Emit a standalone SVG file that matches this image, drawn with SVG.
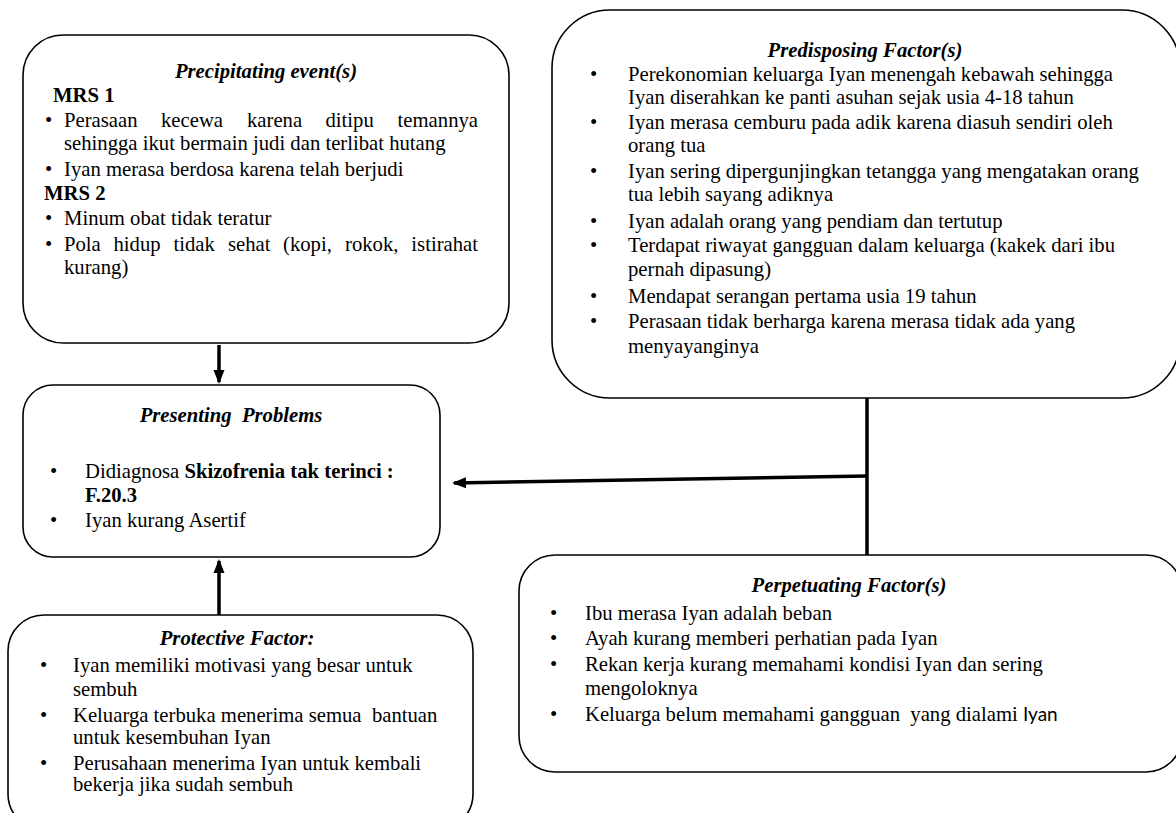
<svg xmlns="http://www.w3.org/2000/svg" width="1176" height="813" viewBox="0 0 1176 813">
<style>
.box{fill:#fff;stroke:#000;stroke-width:1.6}
.t{font-family:"Liberation Serif","Times New Roman",serif;font-size:20.7px;fill:#000}
.h{font-weight:bold;font-style:italic;text-anchor:middle}
.b{font-weight:bold}
.e{text-anchor:end}
.pre{white-space:pre}
.sans{font-family:Lato,"Liberation Sans",sans-serif;font-size:19px}
.con{stroke:#000;stroke-width:3.5;fill:none}
</style>
<defs>
<marker id="ah" markerUnits="userSpaceOnUse" markerWidth="14" markerHeight="14" viewBox="0 0 14 14" refX="12" refY="7" orient="auto"><path d="M0,1.5 L14,7 L0,12.5 z" fill="#000"/></marker>
</defs>
<rect width="1176" height="813" fill="#fff"/>

<g id="connectors">
<line class="con" x1="219" y1="345" x2="219" y2="382" marker-end="url(#ah)"/>
<line class="con" x1="219" y1="615" x2="219" y2="561" marker-end="url(#ah)"/>
<line class="con" x1="867" y1="398" x2="867" y2="555"/>
<line class="con" x1="868" y1="476" x2="454" y2="483" marker-end="url(#ah)"/>
</g>

<g id="precipitating">
<rect class="box" x="23" y="35" width="486" height="308" rx="40"/>
<text class="t h" x="266" y="78">Precipitating event(s)</text>
<text class="t b" x="53" y="102">MRS 1</text>
<text class="t" x="45" y="127">•</text>
<text class="t" x="64" y="127">Perasaan</text>
<text class="t" x="161" y="127">kecewa</text>
<text class="t" x="247" y="127">karena</text>
<text class="t" x="325.5" y="127">ditipu</text>
<text class="t e" x="478" y="127">temannya</text>
<text class="t" x="64" y="150">sehingga ikut bermain judi dan terlibat hutang</text>
<text class="t" x="45" y="176">•</text>
<text class="t" x="64" y="176">Iyan merasa berdosa karena telah berjudi</text>
<text class="t b" x="44" y="200">MRS 2</text>
<text class="t" x="45" y="225">•</text>
<text class="t" x="64" y="225">Minum obat tidak teratur</text>
<text class="t" x="45" y="251">•</text>
<text class="t" x="64" y="251">Pola</text>
<text class="t" x="113.5" y="251">hidup</text>
<text class="t" x="173.5" y="251">tidak</text>
<text class="t" x="228" y="251">sehat</text>
<text class="t" x="283" y="251">(kopi,</text>
<text class="t" x="345" y="251">rokok,</text>
<text class="t e" x="478" y="251">istirahat</text>
<text class="t" x="64" y="274">kurang)</text>
</g>

<g id="predisposing">
<rect class="box" x="552" y="10" width="628" height="388" rx="58"/>
<text class="t h" x="865" y="57">Predisposing Factor(s)</text>
<text class="t" x="590" y="81">•</text>
<text class="t" x="628" y="81">Perekonomian keluarga Iyan menengah kebawah sehingga</text>
<text class="t" x="628" y="104">Iyan diserahkan ke panti asuhan sejak usia 4-18 tahun</text>
<text class="t" x="590" y="129">•</text>
<text class="t" x="628" y="129">Iyan merasa cemburu pada adik karena diasuh sendiri oleh</text>
<text class="t" x="628" y="152">orang tua</text>
<text class="t" x="590" y="178">•</text>
<text class="t" x="628" y="178">Iyan sering dipergunjingkan tetangga yang mengatakan orang</text>
<text class="t" x="628" y="201">tua lebih sayang adiknya</text>
<text class="t" x="590" y="228">•</text>
<text class="t" x="628" y="228">Iyan adalah orang yang pendiam dan tertutup</text>
<text class="t" x="590" y="252">•</text>
<text class="t" x="628" y="252">Terdapat riwayat gangguan dalam keluarga (kakek dari ibu</text>
<text class="t" x="628" y="276">pernah dipasung)</text>
<text class="t" x="590" y="303">•</text>
<text class="t" x="628" y="303">Mendapat serangan pertama usia 19 tahun</text>
<text class="t" x="590" y="328">•</text>
<text class="t" x="628" y="328">Perasaan tidak berharga karena merasa tidak ada yang</text>
<text class="t" x="628" y="353">menyayanginya</text>
</g>

<g id="presenting">
<rect class="box" x="23" y="385" width="417" height="172" rx="30"/>
<text class="t h pre" x="231" y="422">Presenting  Problems</text>
<text class="t" x="50" y="478">•</text>
<text class="t" x="85" y="478">Didiagnosa <tspan class="b">Skizofrenia tak terinci :</tspan></text>
<text class="t b" x="85" y="502">F.20.3</text>
<text class="t" x="50" y="527">•</text>
<text class="t" x="85" y="527">Iyan kurang Asertif</text>
</g>

<g id="protective">
<rect class="box" x="8" y="615" width="465" height="215" rx="36"/>
<text class="t h" x="237" y="645">Protective Factor:</text>
<text class="t" x="40" y="672">•</text>
<text class="t" x="73" y="672">Iyan memiliki motivasi yang besar untuk</text>
<text class="t" x="73" y="696">sembuh</text>
<text class="t" x="40" y="722">•</text>
<text class="t pre" x="73" y="722">Keluarga terbuka menerima semua  bantuan</text>
<text class="t" x="73" y="744">untuk kesembuhan Iyan</text>
<text class="t" x="40" y="770">•</text>
<text class="t" x="73" y="770">Perusahaan menerima Iyan untuk kembali</text>
<text class="t" x="73" y="791">bekerja jika sudah sembuh</text>
</g>

<g id="perpetuating">
<rect class="box" x="519" y="555" width="663" height="217" rx="36"/>
<text class="t h" x="849" y="592">Perpetuating Factor(s)</text>
<text class="t" x="550" y="620">•</text>
<text class="t" x="585" y="620">Ibu merasa Iyan adalah beban</text>
<text class="t" x="550" y="645">•</text>
<text class="t" x="585" y="645">Ayah kurang memberi perhatian pada Iyan</text>
<text class="t" x="550" y="671">•</text>
<text class="t" x="585" y="671">Rekan kerja kurang memahami kondisi Iyan dan sering</text>
<text class="t" x="585" y="695">mengoloknya</text>
<text class="t" x="550" y="721">•</text>
<text class="t pre" x="585" y="721">Keluarga belum memahami gangguan  yang dialami <tspan class="sans">Iyan</tspan></text>
</g>
</svg>
